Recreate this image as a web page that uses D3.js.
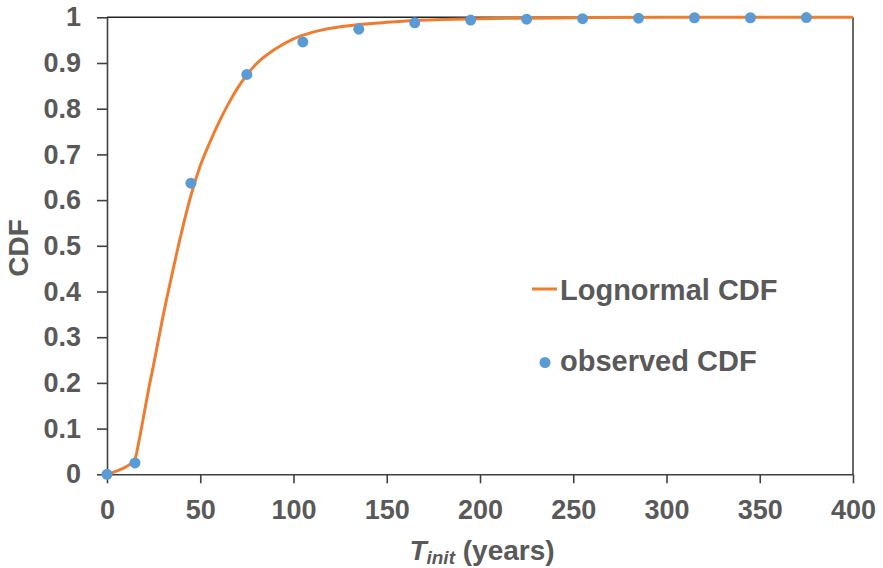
<!DOCTYPE html>
<html>
<head>
<meta charset="utf-8">
<script src="https://cdn.jsdelivr.net/npm/d3@7"></script>
<style>
  html, body { margin: 0; padding: 0; background: #fff; }
  svg { display: block; font-family: "Liberation Sans", Arial, sans-serif; font-weight: bold; }
</style>
</head>
<body>
<svg id="chart" width="883" height="568"></svg>
<script>
// Observed cumulative frequencies of initiation time (years)
const obsT   = [0, 15, 45, 75, 105, 135, 165, 195, 225, 255, 285, 315, 345, 375];
const obsCDF = [0, 0.025, 0.637, 0.875, 0.946, 0.974, 0.988, 0.994, 0.996, 0.997, 0.998, 0.999, 0.999, 0.9995];

// Fitted lognormal CDF, sampled along T
const fitT   = [0, 5, 10, 15, 17, 20, 22.5, 25, 30, 35, 40, 45, 50, 55, 60, 65, 70, 75, 80, 90, 100, 110, 120, 135, 150, 165, 180, 200, 225, 250, 300, 350, 400];
const fitCDF = [0, 0.007, 0.016, 0.033, 0.07, 0.135, 0.19, 0.24, 0.345, 0.44, 0.53, 0.61, 0.675, 0.725, 0.77, 0.81, 0.845, 0.874, 0.898, 0.93, 0.953, 0.967, 0.976, 0.984, 0.989, 0.993, 0.995, 0.997, 0.998, 0.999, 1, 1, 1];

const xTicks = [0, 50, 100, 150, 200, 250, 300, 350, 400];
const yTicks = [0, 0.1, 0.2, 0.3, 0.4, 0.5, 0.6, 0.7, 0.8, 0.9, 1];

const svg = d3.select("#chart");
const plotLeft = 107, plotRight = 853, plotTop = 17.3, plotBottom = 474.3;
const textColor = "#595959", axisColor = "#404040";

const x = d3.scaleLinear().domain([0, 400]).range([plotLeft, plotRight]);
const y = d3.scaleLinear().domain([0, 1]).range([plotBottom, plotTop]);

// Frame: top and right edges
svg.append("line").attr("x1", plotLeft).attr("x2", plotRight).attr("y1", plotTop).attr("y2", plotTop)
  .attr("stroke", "#222").attr("stroke-width", 1.6);
svg.append("line").attr("x1", plotRight).attr("x2", plotRight).attr("y1", plotTop).attr("y2", plotBottom)
  .attr("stroke", axisColor).attr("stroke-width", 1.6);

// Axes
const xAxis = svg.append("g").attr("transform", `translate(0,${plotBottom})`)
  .call(d3.axisBottom(x).tickValues(xTicks).tickSizeInner(9).tickSizeOuter(0).tickPadding(17).tickFormat(d3.format("d")));
const yAxis = svg.append("g").attr("transform", `translate(${plotLeft},0)`)
  .call(d3.axisLeft(y).tickValues(yTicks).tickSizeInner(10).tickSizeOuter(0).tickPadding(16).tickFormat(d => d === 0 || d === 1 ? String(d) : d3.format(".1f")(d)));

[xAxis, yAxis].forEach(g => {
  g.select(".domain").attr("stroke", axisColor).attr("stroke-width", 1.6);
  g.selectAll(".tick line").attr("stroke", axisColor).attr("stroke-width", 1.6);
  g.selectAll(".tick text").attr("fill", textColor).attr("font-size", 27)
    .attr("font-family", "Liberation Sans, Arial, sans-serif").attr("font-weight", "bold");
});

// Fitted curve
const line = d3.line().x(d => x(d[0])).y(d => y(d[1])).curve(d3.curveMonotoneX);
svg.append("path").datum(fitT.map((t, i) => [t, fitCDF[i]]))
  .attr("d", line).attr("fill", "none").attr("stroke", "#ED7D31").attr("stroke-width", 3);

// Observed points
svg.append("g").selectAll("circle").data(obsT.map((t, i) => [t, obsCDF[i]])).join("circle")
  .attr("cx", d => x(d[0])).attr("cy", d => y(d[1])).attr("r", 5.5).attr("fill", "#5B9BD5");

// Legend
svg.append("line").attr("x1", 532).attr("x2", 557).attr("y1", 289).attr("y2", 289)
  .attr("stroke", "#ED7D31").attr("stroke-width", 3);
svg.append("text").attr("x", 560).attr("y", 300).attr("font-size", 29).attr("fill", textColor).text("Lognormal CDF");
svg.append("circle").attr("cx", 545).attr("cy", 362.5).attr("r", 5.5).attr("fill", "#5B9BD5");
svg.append("text").attr("x", 560).attr("y", 371).attr("font-size", 29).attr("fill", textColor).text("observed CDF");

// Axis titles
svg.append("text").attr("transform", "translate(28,248) rotate(-90)").attr("text-anchor", "middle")
  .attr("font-size", 28).attr("fill", textColor).text("CDF");
const xt = svg.append("text").attr("x", 482).attr("y", 560).attr("text-anchor", "middle")
  .attr("font-size", 28).attr("fill", textColor);
xt.append("tspan").attr("font-style", "italic").text("T");
xt.append("tspan").attr("font-style", "italic").attr("font-size", 19).attr("dy", 4).text("init");
xt.append("tspan").attr("dy", -4).text(" (years)");
</script>
</body>
</html>
